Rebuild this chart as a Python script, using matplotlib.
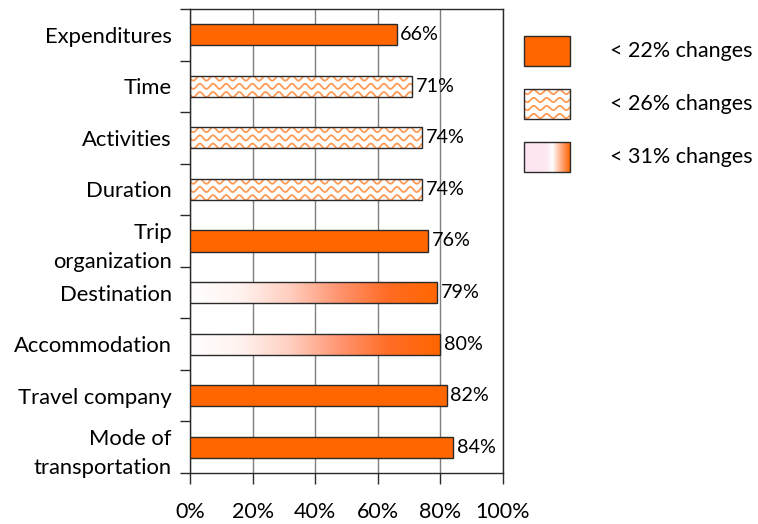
import numpy as np
import matplotlib
matplotlib.use("Agg")
import matplotlib.pyplot as plt
from matplotlib.colors import LinearSegmentedColormap
from matplotlib.patches import Rectangle

# data, top to bottom as in the chart
categories = ["Expenditures", "Time", "Activities", "Duration", "Trip\norganization",
              "Destination", "Accommodation", "Travel company", "Mode of\ntransportation"]
values = [66, 71, 74, 74, 76, 79, 80, 82, 84]
groups = [0, 1, 1, 1, 0, 2, 2, 0, 0]   # index into legend_labels
legend_labels = ["< 22% changes", "< 26% changes", "< 31% changes"]
x_ticks = [0, 20, 40, 60, 80, 100]

ORANGE = "#ff6600"
WAVE = "#ff9a55"
EDGE = "#2a2a2a"
FONT = "Lato"

plt.rcParams["font.family"] = [FONT, "DejaVu Sans"]

bar_cmap = LinearSegmentedColormap.from_list(
    "bar", ["#ffffff", "#fff3ef", "#ffcfc0", "#ff9470", "#ff6c24", "#ff6600"])
leg_cmap = LinearSegmentedColormap.from_list(
    "leg", [(0, "#fde4f1"), (0.5, "#fde8f2"), (0.62, "#ffffff"), (0.8, "#ffb08a"), (1, "#ff6600")])


def add_waves(ax, patch, x0, x1, yc, h, per=4.2, amp=0.05, step=0.16):
    xs = np.linspace(x0, x1, 800)
    for off in np.arange(-0.32, 0.33, step):
        line, = ax.plot(xs, yc + off + amp * np.sin(2 * np.pi * xs / per),
                        color=WAVE, lw=1.3, zorder=2.5)
        line.set_clip_path(patch)


def add_gradient(ax, patch, x0, x1, yc, h, cmap):
    grad = np.linspace(0, 1, 256).reshape(1, -1)
    im = ax.imshow(grad, cmap=cmap, aspect="auto", zorder=2.5,
                   extent=(x0, x1, yc + h / 2, yc - h / 2))
    im.set_clip_path(patch)


fig = plt.figure(figsize=(7.58, 5.24), dpi=100)
ax = fig.add_axes([190 / 758, 1 - 473 / 524, 313 / 758, 464 / 524])

y = np.arange(len(categories))
h = 0.41
bar_colors = [ORANGE if g == 0 else "white" for g in groups]
bars = ax.barh(y, values, height=h, color=bar_colors, edgecolor=EDGE, lw=1.0, zorder=3)

for b, v, g, yc in zip(bars, values, groups, y):
    if g == 1:
        b.set_facecolor("none")
        ax.add_patch(Rectangle((0, yc - h / 2), v, h, facecolor="white", lw=0, zorder=2.4))
        add_waves(ax, b, 0, v, yc, h)
    elif g == 2:
        b.set_facecolor("none")
        add_gradient(ax, b, 0, v, yc, h, bar_cmap)
    ax.text(v + 1.2, yc, f"{v}%", va="center", ha="left", fontsize=14.2, zorder=4)

ax.set_xlim(0, 100)
ax.set_ylim(len(categories) - 0.5, -0.5)
ax.set_xticks(x_ticks)
ax.set_xticklabels([f"{t}%" for t in x_ticks], fontsize=15.5)
ax.set_yticks(y)
ax.set_yticklabels(categories, fontsize=15.8, linespacing=1.55)
ax.set_yticks(np.arange(-0.5, len(categories), 1), minor=True)
ax.tick_params(axis="y", which="major", length=0, pad=13)
ax.tick_params(axis="y", which="minor", length=7, width=1, color=EDGE, direction="out")
ax.tick_params(axis="x", length=8, width=1, color=EDGE, direction="out", pad=13)
ax.grid(axis="x", color="#7f7f7f", lw=1.0, zorder=0)
ax.set_axisbelow(True)
for s in ax.spines.values():
    s.set_color(EDGE)
    s.set_linewidth(1.0)

# legend drawn in pixel coordinates over the whole figure
lax = fig.add_axes([0, 0, 1, 1], facecolor="none")
lax.set_xlim(0, 758)
lax.set_ylim(524, 0)
lax.axis("off")
leg_y = [36, 89, 142]
for i, (lab, ly) in enumerate(zip(legend_labels, leg_y)):
    r = Rectangle((524, ly), 46, 30, facecolor=ORANGE if i == 0 else "white",
                  edgecolor=EDGE, lw=1.0, zorder=3)
    lax.add_patch(r)
    if i == 1:
        r.set_facecolor("none")
        xs = np.linspace(524, 570, 200)
        for off in [3, 11, 19, 27]:
            ln, = lax.plot(xs, ly + off + 2.2 * np.sin(2 * np.pi * (xs - 524) / 13),
                           color=WAVE, lw=1.3, zorder=2.5)
            ln.set_clip_path(r)
    elif i == 2:
        r.set_facecolor("none")
        grad = np.linspace(0, 1, 256).reshape(1, -1)
        im = lax.imshow(grad, cmap=leg_cmap, aspect="auto", zorder=2.5,
                        extent=(524, 570, ly + 30, ly))
        im.set_clip_path(r)
    lax.text(610, ly + 15, lab, va="center", ha="left", fontsize=15.5)
lax.set_xlim(0, 758)
lax.set_ylim(524, 0)

fig.savefig("out.png", dpi=100)
